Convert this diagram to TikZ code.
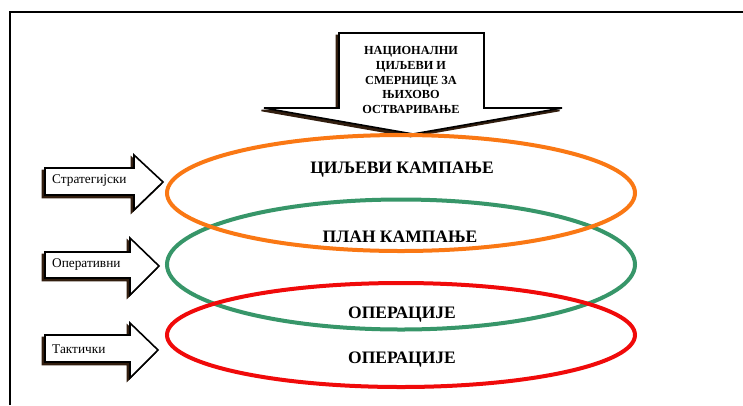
\documentclass[tikz,border=0pt]{standalone}
\usepackage{fontspec}
\setmainfont{Liberation Serif}
\definecolor{ringorange}{RGB}{250,120,20}
\definecolor{ringgreen}{RGB}{55,150,105}
\definecolor{ringred}{RGB}{240,10,10}
\definecolor{shadowbrown}{RGB}{50,30,15}
\tikzset{
  ring/.style={line width=4pt},
  blockarrow/.style={fill=white, draw=black, line width=1.6pt, line join=miter},
  sidelabel/.style={anchor=west, inner sep=0pt, font=\fontsize{13.3}{15}\selectfont},
  ringlabel/.style={inner sep=0pt, font=\bfseries\fontsize{17.5}{19}\selectfont},
  headlabel/.style={inner sep=0pt, align=center, font=\bfseries\fontsize{12.3}{14.8}\selectfont},
  frameline/.style={line width=1.8pt}
}
\begin{document}
\begin{tikzpicture}[x=1pt,y=-1pt]
\useasboundingbox (0,0) rectangle (743,405);
\fill[white] (0,0) rectangle (743,405);
% outer frame (top and left edges)
\draw[frameline] (10,405) -- (10,12) -- (743,12);

% big downward block arrow with its shadow
\def\bigarrow{(339,33) -- (484,33) -- (484,108) -- (562,108) -- (413,134) -- (264,108) -- (339,108) -- cycle}
\filldraw[shadowbrown, line width=1.6pt] [shift={(-2.5,2.5)}] \bigarrow;
\draw[blockarrow] \bigarrow;
\node[headlabel] (national) at (411,80) {НАЦИОНАЛНИ\\ЦИЉЕВИ И\\СМЕРНИЦЕ ЗА\\ЊИХОВО\\ОСТВАРИВАЊЕ};

% left-hand level arrows with shadows
\def\strat{(45,168) -- (134,168) -- (134,155) -- (163,182) -- (134,210) -- (134,195) -- (45,195) -- cycle}
\def\oper{(45,252) -- (130,252) -- (130,238) -- (159,266) -- (130,295) -- (130,278) -- (45,278) -- cycle}
\def\takt{(45,335) -- (130,335) -- (130,323) -- (158,350) -- (130,378) -- (130,362) -- (45,362) -- cycle}
\filldraw[shadowbrown, line width=1.6pt] [shift={(-2.5,2.5)}] \strat;
\draw[blockarrow] \strat;
\filldraw[shadowbrown, line width=1.6pt] [shift={(-2.5,2.5)}] \oper;
\draw[blockarrow] \oper;
\filldraw[shadowbrown, line width=1.6pt] [shift={(-2.5,2.5)}] \takt;
\draw[blockarrow] \takt;
\node[sidelabel] (strategic) at (52,181) {Стратегијски};
\node[sidelabel] (operative) at (52,265) {Оперативни};
\node[sidelabel] (tactical) at (52,349) {Тактички};

% level rings
\draw[ring, ringgreen] (401,264.5) ellipse [x radius=234, y radius=65];
\draw[ring, ringorange] (401,193) ellipse [x radius=234, y radius=58];
\draw[ring, ringred] (401,335) ellipse [x radius=234, y radius=52];

\node[ringlabel] (goals) at (402,170) {ЦИЉЕВИ КАМПАЊЕ};
\node[ringlabel] (plan) at (400,237) {ПЛАН КАМПАЊЕ};
\node[ringlabel] (ops1) at (402,315) {ОПЕРАЦИЈЕ};
\node[ringlabel] (ops2) at (402,360) {ОПЕРАЦИЈЕ};
\end{tikzpicture}
\end{document}
